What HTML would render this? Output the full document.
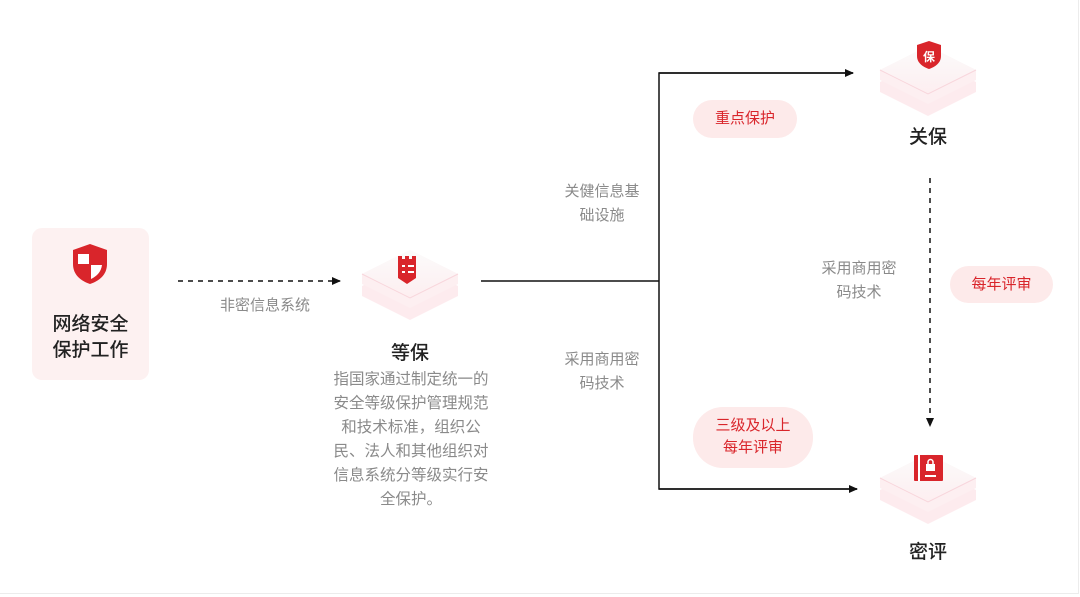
<!DOCTYPE html>
<html><head><meta charset="utf-8"><style>
body{margin:0;width:1080px;height:597px;background:#fff;position:relative;overflow:hidden;font-family:"Liberation Sans","Noto Sans CJK SC",sans-serif}
.a{position:absolute}
.g{color:#8a8a8a;font-size:15px;line-height:24px;text-align:center}
.t{color:#222;font-size:19px;font-weight:500;text-align:center}
.pill{position:absolute;background:#fdeaea;color:#d9252b;font-size:15px;text-align:center;border-radius:30px}
</style></head><body>
<div class="a" style="left:0;top:0;width:1078px;height:593px;border:1px solid #ececec;border-top:none;border-left:none"></div>
<div class="a" style="left:32px;top:228px;width:117px;height:152px;background:#fdf1f1;border-radius:10px"></div>
<svg class="a" style="left:72px;top:243px" width="36" height="42" viewBox="0 0 36 42">
<path d="M18 1 L35 7 V21 C35 32 27 38 18 41 C9 38 1 32 1 21 V7 Z" fill="#d9252b"/>
<rect x="6" y="11" width="11" height="10" fill="#fff"/><path d="M19 22 H30 C29 29 25 33 19 36 Z" fill="#fff"/>
</svg>
<div class="a t" style="left:32px;top:312px;width:117px;font-size:19px;line-height:26px;color:#222">网络安全<br>保护工作</div>

<svg class="a" style="left:0;top:0" width="1080" height="597">
<defs>
<marker id="ar" markerWidth="10" markerHeight="10" refX="8" refY="5" orient="auto" markerUnits="userSpaceOnUse"><path d="M0 1 L9 5 L0 9Z" fill="#111"/></marker>
<linearGradient id="tg" x1="0" y1="0" x2="0" y2="1"><stop offset="0" stop-color="#fbfbfb"/><stop offset="1" stop-color="#fdeef0"/></linearGradient>
<g id="tile">
<path d="M0 14 L48 -10 L96 14 L96 24 L48 48 L0 24Z" fill="#fde6ea" opacity=".8"/>
<path d="M0 2 L48 -22 L96 2 L96 12 L48 36 L0 12Z" fill="#fdeff1"/>
<path d="M0 2 L48 -22 L96 2 L48 26Z" fill="url(#tg)"/>
<path d="M0 2 L48 26 L96 2" fill="none" stroke="#f8d6dc" stroke-width="1"/>
</g>
</defs>
<line x1="178" y1="281" x2="340" y2="281" stroke="#111" stroke-width="1.5" stroke-dasharray="5,5" marker-end="url(#ar)"/>
<polyline points="481,281 659,281" fill="none" stroke="#111" stroke-width="1.5"/>
<polyline points="853,73 659,73 659,489 857,489" fill="none" stroke="#111" stroke-width="1.5"/>
<line x1="659" y1="73" x2="853" y2="73" stroke="#111" stroke-width="1.5" marker-end="url(#ar)"/>
<line x1="659" y1="489" x2="857" y2="489" stroke="#111" stroke-width="1.5" marker-end="url(#ar)"/>
<line x1="930" y1="178" x2="930" y2="426" stroke="#111" stroke-width="1.5" stroke-dasharray="5,5" marker-end="url(#ar)"/>
<use href="#tile" x="362" y="272"/>
<use href="#tile" x="880" y="68"/>
<use href="#tile" x="880" y="476"/>
<!-- 等保 icon -->
<path d="M398 256 h4 v3 h3 v-3 h4 v3 h3 v-3 h4 v22 l-9 6 l-9 -6 Z" fill="#d9252b"/>
<path d="M402 266 h3 M408 266 h6 M402 272 h3 M408 272 h6" stroke="#fff" stroke-width="2"/>
<!-- 关保 icon -->
<path d="M929 41 L941 45 V56 C941 63 935 67 929 69 C923 67 917 63 917 56 V45 Z" fill="#d9252b"/>
<text x="929" y="61" font-size="12" fill="#fff" text-anchor="middle" font-family="Noto Sans CJK SC" font-weight="bold">保</text>
<!-- 密评 icon -->
<rect x="914" y="455" width="29" height="26" rx="1" fill="#d9252b"/>
<rect x="918" y="455" width="2" height="26" fill="#fff"/>
<rect x="926" y="464" width="9" height="7" fill="#fff"/><path d="M928 464 v-2 a2.5 2.5 0 0 1 5 0 v2" stroke="#fff" stroke-width="1.5" fill="none"/>
<rect x="925" y="475" width="11" height="2" fill="#fff"/>
</svg>

<div class="a g" style="left:205px;top:294px;width:120px">非密信息系统</div>
<div class="a t" style="left:360px;top:338px;width:100px">等保</div>
<div class="a g" style="left:328px;top:368px;width:166px;font-size:15.5px">指国家通过制定统一的安全等级保护管理规范和技术标准，组织公民、法人和其他组织对信息系统分等级实行安全保护。</div>
<div class="a t" style="left:878px;top:122px;width:100px">关保</div>
<div class="a t" style="left:878px;top:537px;width:100px">密评</div>
<div class="a g" style="left:555px;top:180px;width:94px">关健信息基<br>础设施</div>
<div class="a g" style="left:555px;top:348px;width:94px">采用商用密<br>码技术</div>
<div class="a g" style="left:812px;top:257px;width:94px">采用商用密<br>码技术</div>
<div class="pill" style="left:693px;top:100px;width:104px;height:38px;line-height:38px">重点保护</div>
<div class="pill" style="left:693px;top:407px;width:120px;height:61px;line-height:22px;padding-top:8px;box-sizing:border-box">三级及以上<br>每年评审</div>
<div class="pill" style="left:950px;top:266px;width:103px;height:37px;line-height:37px">每年评审</div>
</body></html>
